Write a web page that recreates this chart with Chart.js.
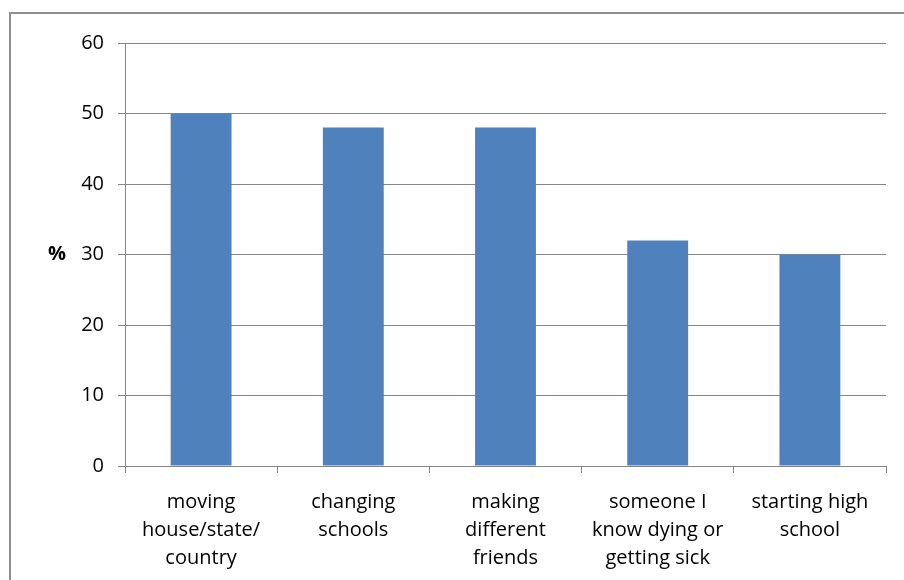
<!DOCTYPE html>
<html>
<head>
<meta charset="utf-8">
<script src="https://cdn.jsdelivr.net/npm/chart.js@4"></script>
<style>
  html, body { margin: 0; padding: 0; background: #fff; overflow: hidden; }
  #wrap { position: relative; width: 904px; height: 580px; }
  #frame { position: absolute; left: 9px; top: 12px; width: 920px; height: 600px; border: 2px solid #8e8e8e; box-sizing: border-box; }
  canvas { position: absolute; left: 0; top: 0; }
</style>
</head>
<body>
<div id="wrap">
  <div id="frame"></div>
  <canvas id="chart" width="904" height="580"></canvas>
</div>
<script>
const categories = [
  ['moving', 'house/state/', 'country'],
  ['changing', 'schools'],
  ['making', 'different', 'friends'],
  ['someone I', 'know dying or', 'getting sick'],
  ['starting high', 'school']
];
const values = [50, 48, 48, 32, 30];
const yTicks = [0, 10, 20, 30, 40, 50, 60];

const fontFamily = '"Open Sans", "Noto Sans", sans-serif';
const gridColor = '#868686';

// draws the horizontal "%" axis title
const percentTitle = {
  id: 'percentTitle',
  afterDraw(chart) {
    const ctx = chart.ctx;
    ctx.save();
    ctx.font = 'bold 20px ' + fontFamily;
    ctx.fillStyle = '#000';
    ctx.textAlign = 'center';
    ctx.textBaseline = 'middle';
    ctx.fillText('%', 57, chart.scales.y.getPixelForValue(30));
    ctx.restore();
  }
};

new Chart(document.getElementById('chart').getContext('2d'), {
  type: 'bar',
  data: {
    labels: categories,
    datasets: [{
      data: values,
      backgroundColor: '#4F81BD',
      borderWidth: 0,
      categoryPercentage: 1,
      barPercentage: 0.4
    }]
  },
  options: {
    responsive: false,
    animation: false,
    devicePixelRatio: 1,
    layout: { padding: { left: 0, top: 43, right: 18, bottom: 0 } },
    plugins: { legend: { display: false }, tooltip: { enabled: false } },
    scales: {
      x: {
        grid: { drawOnChartArea: false, drawTicks: true, tickLength: 7, color: gridColor, lineWidth: 1 },
        border: { color: gridColor, width: 1 },
        ticks: { color: '#000', font: { family: fontFamily, size: 20, lineHeight: 1.4 }, padding: 15, maxRotation: 0, autoSkip: false },
        afterFit(scale) { scale.height = 114; }
      },
      y: {
        min: 0,
        max: 60,
        afterBuildTicks(scale) { scale.ticks = yTicks.map(v => ({ value: v })); },
        grid: { color: gridColor, lineWidth: 1, tickLength: 7 },
        border: { color: gridColor, width: 1 },
        ticks: { color: '#000', font: { family: fontFamily, size: 20 }, padding: 14 },
        afterFit(scale) { scale.width = 125; }
      }
    }
  },
  plugins: [percentTitle]
});
</script>
</body>
</html>
